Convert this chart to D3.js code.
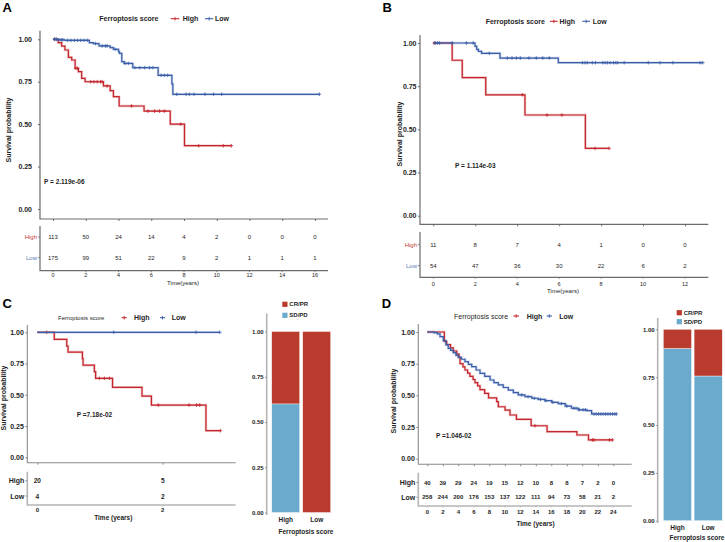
<!DOCTYPE html>
<html>
<head>
<meta charset="utf-8">
<script src="https://cdn.jsdelivr.net/npm/d3@7"></script>
<style>
  body { margin: 0; background: #fff; }
  svg { display: block; font-family: "Liberation Sans", Arial, sans-serif; }
</style>
</head>
<body>
<svg id="fig" width="725" height="542"></svg>
<script>
// ---- data ----
const yTicks = [0, 0.25, 0.5, 0.75, 1];
const groups = ["High", "Low"];

// A
const aTicks = [0, 2, 4, 6, 8, 10, 12, 14, 16];
const aHighTime = [0, 0.32, 0.53, 0.73, 0.94, 1.14, 1.35, 1.55, 1.75, 1.96, 3.08, 3.49, 3.69, 4.04, 5.56, 7.16, 8.03, 10.89];
const aHighSurv = [1, 0.98, 0.96, 0.937, 0.894, 0.878, 0.829, 0.809, 0.77, 0.75, 0.725, 0.697, 0.662, 0.607, 0.577, 0.5, 0.373, 0.373];
const aHighCens = [0.1, 0.2, 1.4, 1.5, 2.3, 2.5, 2.7, 2.9, 3.0, 3.3, 4.8, 5.8, 6.2, 6.5, 6.8, 7.8, 8.9, 10.4, 10.89];
const aLowTime = [0, 0.32, 0.73, 2.22, 2.46, 2.81, 3.49, 3.69, 4.0, 4.06, 4.2, 4.35, 4.87, 6.42, 7.26, 7.32, 16.27];
const aLowSurv = [1, 0.997, 0.994, 0.98, 0.975, 0.961, 0.951, 0.941, 0.927, 0.917, 0.868, 0.858, 0.833, 0.788, 0.737, 0.676, 0.676];
const aLowCens = [0.1, 0.2, 0.35, 0.5, 0.6, 0.9, 1.1, 1.3, 1.5, 1.7, 1.9, 2.1, 2.6, 3.0, 3.2, 3.3, 3.8, 4.4, 4.6, 5.0, 5.3, 5.6, 5.9, 6.1, 6.6, 6.8, 7.0, 7.56, 8.13, 8.33, 8.61, 9.28, 9.8, 10.3, 16.27];
const aRiskHigh = [113, 50, 24, 14, 4, 2, 0, 0, 0];
const aRiskLow = [175, 99, 51, 22, 9, 2, 1, 1, 1];

// B
const bTicks = [0, 2, 4, 6, 8, 10, 12];
const bHighTime = [0, 0.9, 1.38, 2.5, 4.37, 7.25, 8.38];
const bHighSurv = [1, 0.9, 0.8, 0.7, 0.583, 0.39, 0.39];
const bHighCens = [0.05, 4.25, 5.42, 6.13, 7.71, 8.38];
const bLowTime = [0, 1.99, 2.07, 2.15, 2.3, 3.18, 5.96, 12.85];
const bLowSurv = [1, 0.981, 0.963, 0.952, 0.94, 0.913, 0.886, 0.886];
const bLowCens = [0.1, 0.2, 0.3, 0.9, 1.58, 1.9, 2.67, 3.53, 3.75, 3.96, 4.15, 4.56, 4.91, 5.22, 5.53, 7.11, 7.23, 7.34, 7.58, 7.73, 8.08, 8.19, 8.3, 8.43, 8.59, 8.7, 8.79, 9.1, 10.25, 10.81, 11.42, 12.72, 12.85];
const bRiskHigh = [11, 8, 7, 4, 1, 0, 0];
const bRiskLow = [54, 47, 36, 30, 22, 6, 2];

// C
const cTicks = [0, 2];
const cHighTime = [0, 0.27, 0.47, 0.49, 0.72, 0.73, 0.91, 0.93, 1.2, 1.67, 1.82, 2.69, 2.92];
const cHighSurv = [1, 0.944, 0.89, 0.842, 0.79, 0.737, 0.685, 0.632, 0.56, 0.49, 0.418, 0.213, 0.213];
const cHighCens = [0.15, 0.99, 1.07, 1.15, 1.93, 2.42, 2.54, 2.59, 2.92];
const cLowTime = [0, 2.91];
const cLowSurv = [1, 1];
const cLowCens = [1.22, 2.53, 2.91];
const cRiskHigh = [20, 5];
const cRiskLow = [4, 2];
const cCRPR = [0.4, 1.0];
const cSDPD = [0.6, 0.0];

// D
const dTicks = [0, 2, 4, 6, 8, 10, 12, 14, 16, 18, 20, 22, 24];
const dHighTime = [0, 2.2, 2.5, 3.0, 3.35, 3.8, 4.1, 4.22, 4.6, 4.86, 5.2, 5.5, 5.9, 6.15, 6.5, 6.8, 7.4, 7.9, 8.95, 9.16, 10.03, 10.67, 11.5, 13.4, 15.45, 19.3, 20.8, 23.9];
const dHighSurv = [1, 0.925, 0.9, 0.875, 0.85, 0.825, 0.8, 0.75, 0.725, 0.7, 0.675, 0.65, 0.625, 0.6, 0.575, 0.545, 0.515, 0.48, 0.45, 0.41, 0.384, 0.345, 0.311, 0.26, 0.213, 0.187, 0.148, 0.148];
const dHighCens = [13.9, 21.3, 21.5, 23.5, 23.9];
const dLowTime = [0, 0.9, 1.3, 1.64, 2.07, 2.4, 2.7, 3.0, 3.35, 3.7, 4.0, 4.4, 4.86, 5.3, 5.73, 6.3, 6.8, 7.4, 8.1, 8.6, 9.16, 9.8, 10.45, 11.1, 11.74, 12.6, 13.47, 14.3, 15.2, 16.05, 16.9, 17.8, 18.6, 19.5, 20.6, 21.2, 24.4];
const dLowSurv = [1, 0.995, 0.985, 0.963, 0.932, 0.9, 0.871, 0.855, 0.837, 0.815, 0.8, 0.785, 0.766, 0.745, 0.726, 0.7, 0.674, 0.65, 0.621, 0.6, 0.582, 0.562, 0.542, 0.522, 0.503, 0.49, 0.477, 0.468, 0.458, 0.445, 0.435, 0.415, 0.398, 0.386, 0.379, 0.353, 0.353];
const dLowCens = [12.2, 13.0, 13.8, 14.6, 15.3, 16.2, 17.3, 18.0, 18.9, 19.2, 19.6, 20.1, 20.4, 21.5, 21.8, 22.1, 22.4, 22.7, 23.0, 23.3, 23.6, 23.9, 24.2, 24.4];
const dRiskHigh = [40, 39, 29, 24, 19, 15, 12, 10, 8, 8, 7, 2, 0];
const dRiskLow = [258, 244, 200, 176, 153, 137, 122, 111, 94, 73, 58, 21, 2];
const dCRPR = [0.1, 0.244];
const dSDPD = [0.9, 0.756];

// ---- styles ----
const RED = "#c4262c", BLUE = "#3b5fa9";
const RED_LAB = "#c63b3b", BLUE_LAB = "#5a78b2";
const BAR_RED = "#b83b2d", BAR_BLUE = "#6aaacd";
const INK = "#1e1e1e";
const FONT = '"Liberation Sans", Arial, sans-serif';

const svg = d3.select("#fig");

function txt(g, x, y, s, o = {}) {
  return g.append("text").attr("x", x).attr("y", y).text(s)
    .attr("font-size", o.size || 7)
    .attr("font-weight", o.bold ? "bold" : "normal")
    .attr("fill", o.color || INK)
    .attr("text-anchor", o.anchor || "start")
    .attr("dominant-baseline", "central");
}

function stepAt(times, surv, t) {
  let i = d3.bisectRight(times, t) - 1;
  return surv[Math.max(0, i)];
}

// ---- KM panel ----
function kmPanel(c) {
  const g = svg.append("g");
  const x = d3.scaleLinear().domain([c.ticks[0], c.ticks[c.ticks.length - 1]]).range(c.xRange);
  const y = d3.scaleLinear().domain([0, 1]).range(c.yRange);
  const f = c.frame;

  // panel letter
  txt(g, c.letter[1], c.letter[2], c.letter[0], { size: 13, bold: true, color: "#000" });

  // legend
  const L = c.legend;
  txt(g, L.x, L.y, "Ferroptosis score", { size: L.titleSize, bold: L.titleBold });
  [[L.hi, "High", RED], [L.lo, "Low", BLUE]].forEach(([p, lab, col]) => {
    g.append("line").attr("x1", p[0]).attr("x2", p[1]).attr("y1", L.y).attr("y2", L.y)
      .attr("stroke", col).attr("stroke-width", 1.1);
    const m = (p[0] + p[1]) / 2;
    g.append("line").attr("x1", m).attr("x2", m).attr("y1", L.y - 1.8).attr("y2", L.y + 1.8)
      .attr("stroke", col).attr("stroke-width", 0.9);
    txt(g, p[2], L.y, lab, { size: 7, bold: true });
  });

  // axis lines
  g.append("path").attr("d", `M${f.l},${f.t}V${f.b}H${f.r}`)
    .attr("fill", "none").attr("stroke", c.axisColor).attr("stroke-width", c.axisWidth);

  const ya = g.append("g").attr("transform", `translate(${f.l},0)`)
    .call(d3.axisLeft(y).tickValues(yTicks).tickFormat(d3.format(".2f")).tickSize(2).tickPadding(c.yPad));
  ya.attr("font-family", FONT).select(".domain").remove();
  ya.selectAll("line").attr("stroke", c.axisColor);
  ya.selectAll("text").attr("font-size", 7).attr("font-weight", "bold").attr("fill", INK);

  const xa = g.append("g").attr("transform", `translate(0,${f.b})`)
    .call(d3.axisBottom(x).tickValues(c.ticks).tickSize(2).tickFormat(""));
  xa.select(".domain").remove();
  xa.selectAll("line").attr("stroke", c.axisColor);

  // y title
  g.append("text").attr("transform", `translate(${c.yTitle[0]},${c.yTitle[1]}) rotate(-90)`)
    .attr("text-anchor", "middle").attr("dominant-baseline", "central")
    .attr("font-size", 7).attr("font-weight", "bold").attr("fill", INK).text("Survival probability");

  // curves
  const line = d3.line().x(d => x(d[0])).y(d => y(d[1])).curve(d3.curveStepAfter);
  c.series.forEach(s => {
    const pts = d3.zip(s.time, s.surv);
    g.append("path").attr("d", line(pts)).attr("fill", "none")
      .attr("stroke", s.color).attr("stroke-width", 2.5).attr("stroke-opacity", 0.28);
    g.append("path").attr("d", line(pts)).attr("fill", "none")
      .attr("stroke", s.color).attr("stroke-width", 1.2);
    s.cens.forEach(t => {
      const cx = x(t), cy = y(stepAt(s.time, s.surv, t));
      g.append("path").attr("d", `M${cx - 1.8},${cy}h3.6M${cx},${cy - 1.8}v3.6`)
        .attr("stroke", s.color).attr("stroke-width", 0.8);
    });
  });

  // p value
  txt(g, c.pval[1], c.pval[2], c.pval[0], { size: 6.5, bold: true });

  // risk table
  const T = c.table;
  g.append("path").attr("d", `M${f.l},${T.top}V${T.bottom}H${f.r}`)
    .attr("fill", "none").attr("stroke", T.lineColor).attr("stroke-width", T.lineWidth);
  c.risk.forEach((r, k) => {
    const ry = T.rows[k];
    g.append("line").attr("x1", f.l - 2).attr("x2", f.l).attr("y1", ry).attr("y2", ry)
      .attr("stroke", c.axisColor).attr("stroke-width", 0.8);
    txt(g, f.l - 3, ry, groups[k], {
      size: T.labSize, bold: T.labBold, anchor: "end",
      color: T.labColored ? (k === 0 ? RED_LAB : BLUE_LAB) : INK
    });
    r.forEach((v, i) => txt(g, x(c.ticks[i]), ry, v, { size: T.numSize, bold: T.numBold, anchor: "middle" }));
  });
  c.ticks.forEach(t => {
    g.append("line").attr("x1", x(t)).attr("x2", x(t)).attr("y1", T.bottom).attr("y2", T.bottom + 1.5)
      .attr("stroke", T.lineColor).attr("stroke-width", 0.8);
    txt(g, x(t), T.tickY, t, { size: T.tickSize, bold: T.numBold, anchor: "middle" });
  });
  txt(g, T.title[1], T.title[2], T.title[0], { size: T.titleSize, bold: T.numBold, anchor: "middle" });
}

// ---- stacked bar panel ----
function barPanel(c) {
  const g = svg.append("g");
  const x = d3.scaleBand().domain(groups).range(c.xRange).paddingInner(c.padIn).paddingOuter(c.padOut);
  const y = d3.scaleLinear().domain([0, 1]).range(c.yRange);
  const rows = groups.map((k, i) => ({ g: k, SD: c.sd[i], CR: c.cr[i] }));
  const stack = d3.stack().keys(["SD", "CR"])(rows);
  const col = { SD: BAR_BLUE, CR: BAR_RED };

  stack.forEach(layer => {
    g.selectAll(null).data(layer).enter().append("rect")
      .attr("x", d => x(d.data.g)).attr("width", x.bandwidth())
      .attr("y", d => y(d[1])).attr("height", d => y(d[0]) - y(d[1]))
      .attr("fill", col[layer.key]).attr("stroke", "#fff").attr("stroke-width", 0.4);
  });

  g.append("line").attr("x1", c.axisX).attr("x2", c.axisX).attr("y1", c.axisTop).attr("y2", c.axisBottom)
    .attr("stroke", "#b3b3b3").attr("stroke-width", 1.6);
  const ya = g.append("g").attr("transform", `translate(${c.axisX},0)`)
    .call(d3.axisLeft(y).tickValues(yTicks).tickFormat(d3.format(".2f")).tickSize(1.5).tickPadding(1.5));
  ya.attr("font-family", FONT).select(".domain").remove();
  ya.selectAll("line").attr("stroke", "#888");
  ya.selectAll("text").attr("font-size", 6).attr("font-weight", "bold").attr("fill", INK);

  groups.forEach(k => txt(g, x(k) + x.bandwidth() / 2, c.labY, k, { size: 6.5, bold: true, anchor: "middle" }));
  txt(g, c.title[0], c.title[1], "Ferroptosis score", { size: 6.5, bold: true, anchor: "middle" });

  [["CR/PR", BAR_RED], ["SD/PD", BAR_BLUE]].forEach(([lab, cl], i) => {
    const ly = c.legend[1] + i * c.legend[2];
    g.append("rect").attr("x", c.legend[0]).attr("y", ly - 2.6).attr("width", 5.2).attr("height", 5.2).attr("fill", cl);
    txt(g, c.legend[0] + 7, ly, lab, { size: 6, bold: true });
  });
}

// ---- panels ----
kmPanel({
  letter: ["A", 2.5, 7.5],
  ticks: aTicks, xRange: [53, 315], yRange: [209, 39.3],
  frame: { l: 40, r: 328, t: 30.7, b: 219 },
  axisColor: "#6b6b6b", axisWidth: 1.2, yPad: 6,
  legend: { x: 99.3, y: 18.7, titleSize: 7, titleBold: true, hi: [170.7, 179.3, 182.7], lo: [205, 213.3, 215] },
  yTitle: [8.3, 130],
  series: [
    { time: aHighTime, surv: aHighSurv, cens: aHighCens, color: RED },
    { time: aLowTime, surv: aLowSurv, cens: aLowCens, color: BLUE }
  ],
  pval: ["P = 2.119e-06", 44, 181.7],
  risk: [aRiskHigh, aRiskLow],
  table: { top: 226, bottom: 270.7, rows: [237, 257.7], lineColor: "#6b6b6b", lineWidth: 1.2,
    labSize: 6, labBold: false, labColored: true, numSize: 6, numBold: false,
    tickY: 275.4, tickSize: 5.5, title: ["Time(years)", 183, 282.5], titleSize: 6 }
});

kmPanel({
  letter: ["B", 382.5, 7.5],
  ticks: bTicks, xRange: [433.3, 685], yRange: [215.7, 43],
  frame: { l: 420, r: 708.3, t: 35, b: 224.3 },
  axisColor: "#6b6b6b", axisWidth: 1.2, yPad: 1.5,
  legend: { x: 485.7, y: 21.3, titleSize: 7, titleBold: true, hi: [550, 557.7, 559.5], lo: [582.3, 590, 592.7] },
  yTitle: [399, 134],
  series: [
    { time: bHighTime, surv: bHighSurv, cens: bHighCens, color: RED },
    { time: bLowTime, surv: bLowSurv, cens: bLowCens, color: BLUE }
  ],
  pval: ["P = 1.114e-03", 455, 165],
  risk: [bRiskHigh, bRiskLow],
  table: { top: 232, bottom: 277.3, rows: [244.7, 265.7], lineColor: "#6b6b6b", lineWidth: 1.2,
    labSize: 6, labBold: false, labColored: true, numSize: 6, numBold: false,
    tickY: 283.5, tickSize: 5.5, title: ["Time(years)", 563, 290.5], titleSize: 6 }
});

kmPanel({
  letter: ["C", 2.5, 303.5],
  ticks: cTicks, xRange: [37.3, 162.7], yRange: [457.3, 332.3],
  frame: { l: 27.3, r: 235.7, t: 325, b: 462.7 },
  axisColor: "#8a8a8a", axisWidth: 1.1, yPad: 1.5,
  legend: { x: 58, y: 317.7, titleSize: 6, titleBold: false, hi: [121.7, 126.7, 134], lo: [160, 165, 171.7] },
  yTitle: [3.8, 398],
  series: [
    { time: cHighTime, surv: cHighSurv, cens: cHighCens, color: RED },
    { time: cLowTime, surv: cLowSurv, cens: cLowCens, color: BLUE }
  ],
  pval: ["P =7.18e-02", 76.7, 414],
  risk: [cRiskHigh, cRiskLow],
  table: { top: 471.7, bottom: 505, rows: [480.7, 496], lineColor: "#b5b5b5", lineWidth: 1.6,
    labSize: 7, labBold: true, labColored: false, numSize: 6.5, numBold: true,
    tickY: 509.8, tickSize: 6, title: ["Time (years)", 113.3, 517.5], titleSize: 6.5 }
});

kmPanel({
  letter: ["D", 381.7, 303.5],
  ticks: dTicks, xRange: [427.3, 613.3], yRange: [458.7, 332],
  frame: { l: 418.3, r: 631.7, t: 324, b: 464.3 },
  axisColor: "#8a8a8a", axisWidth: 1.1, yPad: 1.5,
  legend: { x: 454, y: 316, titleSize: 7, titleBold: false, hi: [513.3, 519, 526.7], lo: [546.7, 552, 559.3] },
  yTitle: [393.3, 401],
  series: [
    { time: dHighTime, surv: dHighSurv, cens: dHighCens, color: RED },
    { time: dLowTime, surv: dLowSurv, cens: dLowCens, color: BLUE }
  ],
  pval: ["P =1.046-02", 436, 435.7],
  risk: [dRiskHigh, dRiskLow],
  table: { top: 472.7, bottom: 506, rows: [482.5, 497.2], lineColor: "#b5b5b5", lineWidth: 1.6,
    labSize: 7, labBold: true, labColored: false, numSize: 6, numBold: true,
    tickY: 511.5, tickSize: 6, title: ["Time (years)", 535.5, 523.5], titleSize: 6.5 }
});

barPanel({
  xRange: [270.2, 332.2], padIn: 0.1, padOut: 0.05, yRange: [512.5, 331.5],
  axisX: 266.7, axisTop: 313.5, axisBottom: 515,
  cr: cCRPR, sd: cSDPD, labY: 519.5, title: [306, 531.7], legend: [282.3, 304.3, 11]
});

barPanel({
  xRange: [661.8, 723.8], padIn: 0.085, padOut: 0.05, yRange: [520.7, 329.3],
  axisX: 657.7, axisTop: 318, axisBottom: 523,
  cr: dCRPR, sd: dSDPD, labY: 527.5, title: [697, 537.3], legend: [676.7, 312.7, 9]
});
</script>
</body>
</html>
